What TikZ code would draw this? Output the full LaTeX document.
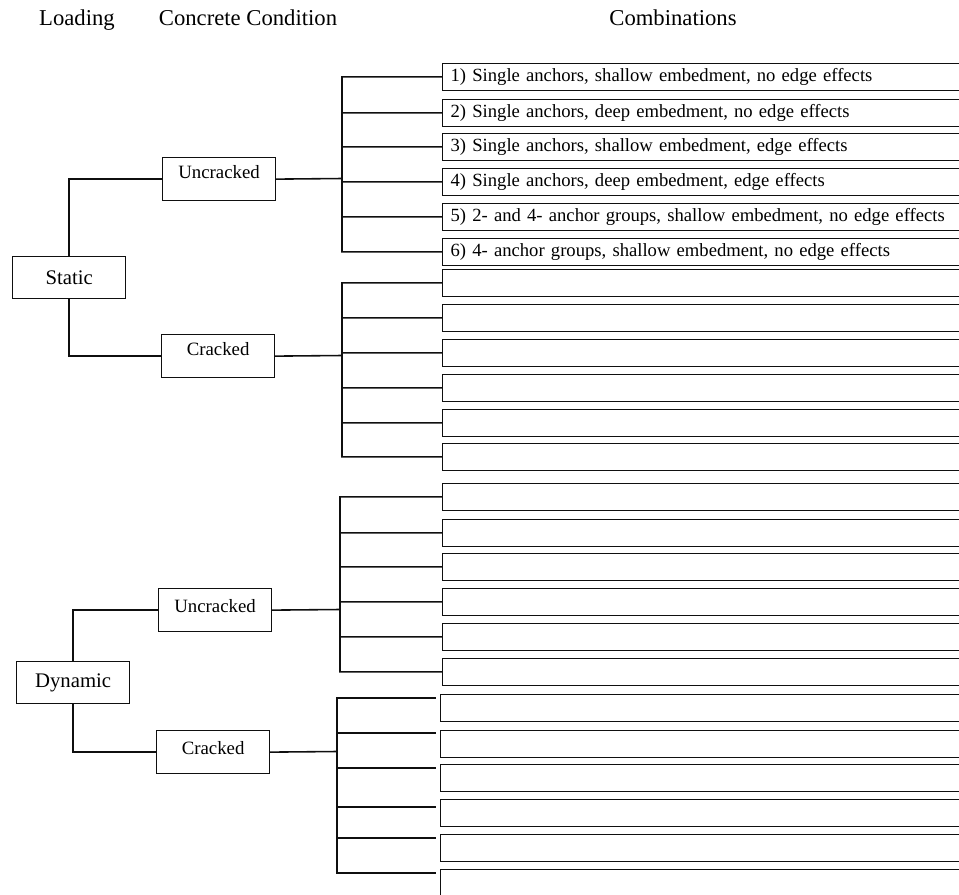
\documentclass[tikz,border=0pt]{standalone}
\usepackage{fontspec}
\setmainfont{Liberation Serif}
\usepackage{xcolor}
\usepackage{tikz}
\usetikzlibrary{positioning}
\definecolor{boxline}{RGB}{15,15,15}
\def\FxCb{442}
\def\FxCbD{440}
\tikzset{
  head/.style={font=\fontsize{12.9}{15}\selectfont, inner sep=0pt, anchor=base},
  load/.style={
    draw=boxline, line width=0.7pt, anchor=north west,
    minimum width=22.6mm, minimum height=8.4mm,
    font=\fontsize{11.8}{14}\selectfont, inner sep=0pt,
  },
  cond/.style={
    draw=boxline, line width=0.7pt, anchor=north west,
    minimum width=22.6mm, text height=4.2mm, text depth=4.4mm,
    font=\fontsize{10.7}{13}\selectfont, inner sep=0pt,
  },
  combo/.style={
    draw=boxline, line width=0.7pt, anchor=north west,
    text width=103.6mm, inner xsep=1.6mm, inner ysep=0pt,
    minimum height=5.3mm, align=left,
    font=\fontsize{10.6}{13}\selectfont,
  },
  link/.style={line width=0.9pt, draw=boxline},
}
\begin{document}
\begin{tikzpicture}[x=0.2mm,y=-0.2mm]
  \useasboundingbox (0,0) rectangle (959,894);
  \clip (0,0) rectangle (959,894);

  \node[head] (hload) at (77,25) {Loading};
  \node[head] (hcond) at (248,25) {Concrete Condition};
  \node[head] (hcomb) at (673,25) {Combinations};

  % static loading
  \node[load] (sta) at (12,256) {Static};
  \node[cond] (su) at (162,157) {Uncracked};
  \node[cond] (sc) at (161,334) {Cracked};
  \draw[link] (sta.north) |- (su.west);
  \draw[link] (sta.south) |- (sc.west);

  \node[combo] (su1) at (\FxCb,63) {1) Single anchors, shallow embedment, no edge effects};
  \node[combo] (su2) at (\FxCb,99) {2) Single anchors, deep embedment, no edge effects};
  \node[combo] (su3) at (\FxCb,133) {3) Single anchors, shallow embedment, edge effects};
  \node[combo] (su4) at (\FxCb,168) {4) Single anchors, deep embedment, edge effects};
  \node[combo] (su5) at (\FxCb,203) {5) 2- and 4- anchor groups, shallow embedment, no edge effects};
  \node[combo] (su6) at (\FxCb,238) {6) 4- anchor groups, shallow embedment, no edge effects};
  \coordinate (tsu) at (342,178.5);
  \draw[link] (su.east) -- (tsu) (tsu) |- (su1.west) (tsu) |- (su2.west) (tsu) |- (su3.west)
    (tsu) |- (su4.west) (tsu) |- (su5.west) (tsu) |- (su6.west);

  \node[combo] (sc1) at (\FxCb,269) {};
  \node[combo] (sc2) at (\FxCb,304) {};
  \node[combo] (sc3) at (\FxCb,339) {};
  \node[combo] (sc4) at (\FxCb,374) {};
  \node[combo] (sc5) at (\FxCb,409) {};
  \node[combo] (sc6) at (\FxCb,443) {};
  \coordinate (tsc) at (342,355.5);
  \draw[link] (sc.east) -- (tsc) (tsc) |- (sc1.west) (tsc) |- (sc2.west) (tsc) |- (sc3.west)
    (tsc) |- (sc4.west) (tsc) |- (sc5.west) (tsc) |- (sc6.west);

  % dynamic loading
  \node[load] (dyn) at (16,661) {Dynamic};
  \node[cond, text height=4.8mm, text depth=3.8mm] (du) at (158,588) {Uncracked};
  \node[cond, text height=4.8mm, text depth=3.8mm] (dc) at (156,730) {Cracked};
  \draw[link] (dyn.north) |- (du.west);
  \draw[link] (dyn.south) |- (dc.west);

  \node[combo] (du1) at (\FxCb,483) {};
  \node[combo] (du2) at (\FxCb,519) {};
  \node[combo] (du3) at (\FxCb,553) {};
  \node[combo] (du4) at (\FxCb,588) {};
  \node[combo] (du5) at (\FxCb,623) {};
  \node[combo] (du6) at (\FxCb,658) {};
  \coordinate (tdu) at (340,609.5);
  \draw[link] (du.east) -- (tdu) (tdu) |- (du1.west) (tdu) |- (du2.west) (tdu) |- (du3.west)
    (tdu) |- (du4.west) (tdu) |- (du5.west) (tdu) |- (du6.west);

  \node[combo] (dc1) at (\FxCbD,694) {};
  \node[combo] (dc2) at (\FxCbD,730) {};
  \node[combo] (dc3) at (\FxCbD,764) {};
  \node[combo] (dc4) at (\FxCbD,799) {};
  \node[combo] (dc5) at (\FxCbD,834) {};
  \node[combo] (dc6) at (\FxCbD,869) {};
  \coordinate (tdc) at (337,751.5);
  \draw[link] (dc.east) -- (tdc);
  \draw[link, shorten >=0.8mm] (tdc) |- ([yshift=-0.8mm]dc1.north west);
  \draw[link, shorten >=0.8mm] (tdc) |- ([yshift=-0.6mm]dc2.north west);
  \draw[link, shorten >=0.8mm] (tdc) |- ([yshift=-0.8mm]dc3.north west);
  \draw[link, shorten >=0.8mm] (tdc) |- ([yshift=-1.6mm]dc4.north west);
  \draw[link, shorten >=0.8mm] (tdc) |- ([yshift=-0.8mm]dc5.north west);
  \draw[link, shorten >=0.8mm] (tdc) |- ([yshift=-0.8mm]dc6.north west);
\end{tikzpicture}
\end{document}
